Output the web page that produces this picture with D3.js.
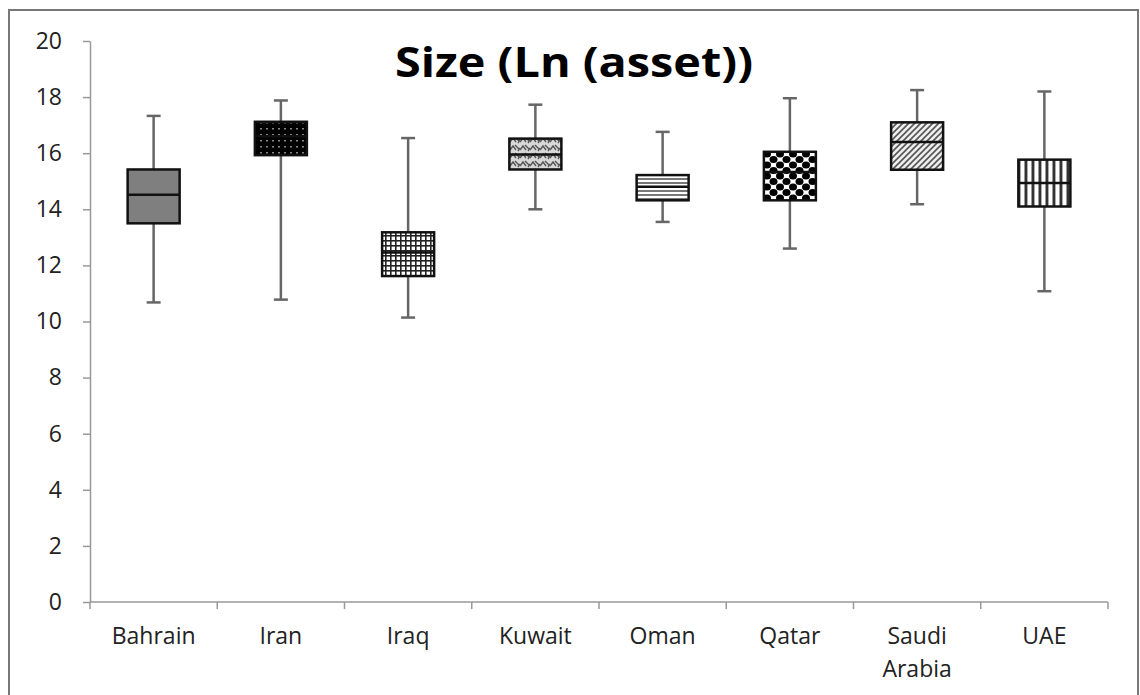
<!DOCTYPE html>
<html><head><meta charset="utf-8">
<script src="https://cdn.jsdelivr.net/npm/d3@7"></script>
<style>body{margin:0;background:#fff;} svg{display:block;}</style>
</head><body>
<svg id="chart" width="1140" height="695"></svg>
<script>
const categories = ["Bahrain","Iran","Iraq","Kuwait","Oman","Qatar","Saudi Arabia","UAE"];
const whiskerLow  = [10.68, 10.78, 10.14, 14.0, 13.55, 12.6, 14.18, 11.08];
const q1          = [13.5, 15.93, 11.62, 15.42, 14.32, 14.32, 15.41, 14.1];
const median      = [14.52, 16.6, 12.46, 15.95, 14.8, 15.33, 16.4, 14.94];
const q3          = [15.42, 17.12, 13.18, 16.52, 15.22, 16.05, 17.1, 15.77];
const whiskerHigh = [17.33, 17.88, 16.54, 17.73, 16.76, 17.96, 18.25, 18.2];
const yTicks = [0,2,4,6,8,10,12,14,16,18,20];
const title = "Size (Ln (asset))";

const svg = d3.select("#chart");
const defs = svg.append("defs");
const FONT = "'Open Sans', 'DejaVu Sans', sans-serif";

// outer frame
svg.append("rect").attr("x",9).attr("y",10).attr("width",1129).attr("height",700)
  .attr("fill","none").attr("stroke","#777").attr("stroke-width",2);

const x = d3.scaleBand().domain(categories).range([90,1108]);
const y = d3.scaleLinear().domain([0,20]).range([602,41]);

// patterns
function pat(id,w,h,draw){const p=defs.append("pattern").attr("id",id).attr("patternUnits","userSpaceOnUse").attr("width",w).attr("height",h);draw(p);}
pat("p0",4,4,p=>{p.append("rect").attr("width",4).attr("height",4).attr("fill","#7f7f7f");});
pat("p1",6,6,p=>{p.append("rect").attr("width",6).attr("height",6).attr("fill","#000");
  p.append("rect").attr("x",2).attr("y",2).attr("width",2).attr("height",1.5).attr("fill","#888");});
pat("p2",5,5,p=>{p.append("rect").attr("width",5).attr("height",5).attr("fill","#fff");
  p.append("rect").attr("width",5).attr("height",1.6).attr("fill","#222");
  p.append("rect").attr("width",1.6).attr("height",5).attr("fill","#222");});
pat("p3",10,8,p=>{p.append("rect").attr("width",10).attr("height",8).attr("fill","#d8d8d8");
  p.append("path").attr("d","M0,6 L3,2 L6,6 M5,1 L9,5 M8,7 L10,4").attr("stroke","#555").attr("stroke-width",1.4).attr("fill","none");});
pat("p4",4,4,p=>{p.append("rect").attr("width",4).attr("height",4).attr("fill","#fff");
  p.append("rect").attr("y",2).attr("width",4).attr("height",2).attr("fill","#777");});
pat("p5",13,11,p=>{p.append("rect").attr("width",13).attr("height",11).attr("fill","#fff");
  p.append("ellipse").attr("cx",6.5).attr("cy",5.5).attr("rx",4).attr("ry",3.6).attr("fill","#000");
  [[0,0],[13,0],[0,11],[13,11]].forEach(([a,b])=>p.append("ellipse").attr("cx",a).attr("cy",b).attr("rx",4).attr("ry",3.6).attr("fill","#000"));});
pat("p6",6,6,p=>{p.append("rect").attr("width",6).attr("height",6).attr("fill","#eee");
  p.append("path").attr("d","M-1,7 L7,-1 M-1,1 L1,-1 M5,7 L7,5").attr("stroke","#555").attr("stroke-width",1.6);});
pat("p7",7,4,p=>{p.append("rect").attr("width",7).attr("height",4).attr("fill","#fff");
  p.append("rect").attr("x",2.5).attr("width",2.5).attr("height",4).attr("fill","#333");
  p.append("rect").attr("x",5).attr("width",1).attr("height",4).attr("fill","#aaa");});

// axes
const gy = svg.append("g").attr("transform","translate(90,0)")
  .call(d3.axisLeft(y).tickValues(yTicks).tickSize(7).tickSizeOuter(0).tickPadding(21));
gy.selectAll("text").attr("font-family",FONT).attr("font-size",23).attr("fill","#222");
gy.selectAll("line,path").attr("stroke","#999").attr("stroke-width",1.5);

const gx = svg.append("g").attr("transform","translate(0,602)");
gx.append("line").attr("x1",90).attr("x2",1108).attr("stroke","#999").attr("stroke-width",1.5);
const bounds = categories.map(c=>x(c)).concat([x.range()[1]]);
gx.selectAll("line.tk").data(bounds).join("line").attr("class","tk")
  .attr("x1",d=>d).attr("x2",d=>d).attr("y1",0).attr("y2",7).attr("stroke","#999").attr("stroke-width",1.5);
gx.selectAll("text").data(categories).join("text")
  .attr("x",d=>x(d)+x.bandwidth()/2).attr("y",42).attr("text-anchor","middle")
  .attr("font-family",FONT).attr("font-size",23).attr("fill","#222")
  .each(function(d){const parts=d.split(" ");const t=d3.select(this);
    parts.forEach((p,i)=>t.append("tspan").attr("x",x(d)+x.bandwidth()/2).attr("dy",i?33:0).text(p));});

// boxes
const bw = 52, cap = 14;
const g = svg.append("g");
categories.forEach((c,i)=>{
  const cx = x(c)+x.bandwidth()/2;
  g.append("line").attr("x1",cx).attr("x2",cx).attr("y1",y(whiskerHigh[i])).attr("y2",y(whiskerLow[i]))
    .attr("stroke","#666").attr("stroke-width",2.5);
  [whiskerHigh[i],whiskerLow[i]].forEach(v=>g.append("line").attr("x1",cx-cap/2).attr("x2",cx+cap/2)
    .attr("y1",y(v)).attr("y2",y(v)).attr("stroke","#666").attr("stroke-width",2.5));
  g.append("rect").attr("x",cx-bw/2).attr("width",bw).attr("y",y(q3[i])).attr("height",y(q1[i])-y(q3[i]))
    .attr("fill",`url(#p${i})`).attr("stroke","#111").attr("stroke-width",2.5);
  g.append("line").attr("x1",cx-bw/2).attr("x2",cx+bw/2).attr("y1",y(median[i])).attr("y2",y(median[i]))
    .attr("stroke","#111").attr("stroke-width",2.5);
});

svg.append("text").attr("x",574).attr("y",77).attr("text-anchor","middle")
  .attr("font-family",FONT).attr("font-weight","bold").attr("font-size",42).attr("fill","#000")
  .attr("textLength",358).attr("lengthAdjust","spacingAndGlyphs").text(title);
</script>
</body></html>
